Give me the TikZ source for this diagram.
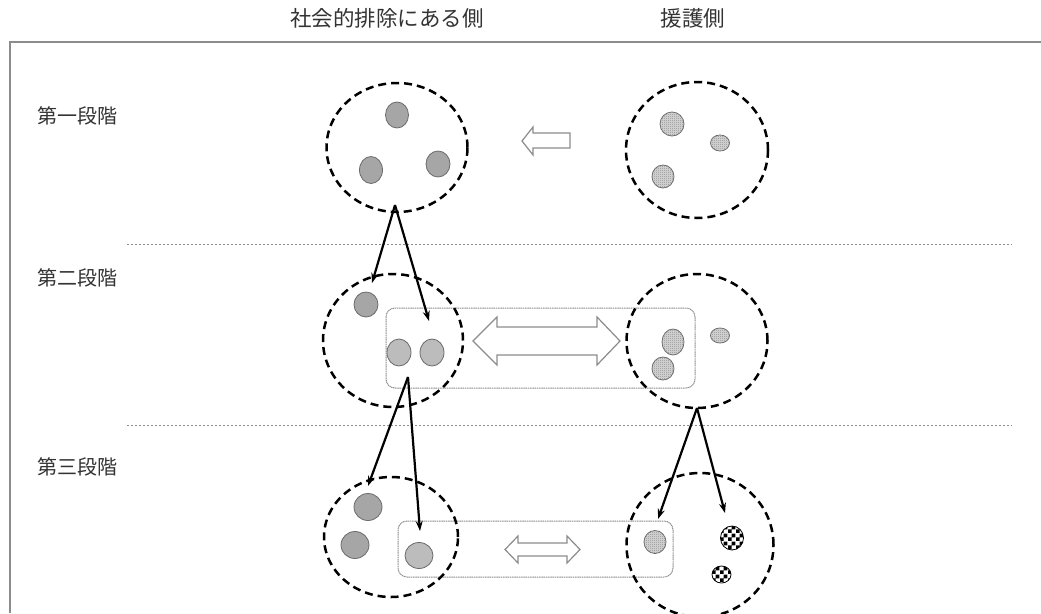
\documentclass[tikz,border=0pt]{standalone}
\usepackage{fontspec}
\newfontfamily\jp{Noto Sans CJK JP}
\usetikzlibrary{shapes.geometric,arrows.meta,patterns}
\pgfdeclarepatternformonly{bigcheck}{\pgfpointorigin}{\pgfqpoint{8pt}{8pt}}{\pgfqpoint{8pt}{8pt}}{%
  \pgfpathrectangle{\pgfpointorigin}{\pgfqpoint{4pt}{4pt}}%
  \pgfpathrectangle{\pgfqpoint{4pt}{4pt}}{\pgfqpoint{4pt}{4pt}}%
  \pgfusepath{fill}}
\pgfdeclarepatternformonly{finecheck}{\pgfpointorigin}{\pgfqpoint{2pt}{2pt}}{\pgfqpoint{2pt}{2pt}}{%
  \pgfpathrectangle{\pgfpointorigin}{\pgfqpoint{1pt}{1pt}}%
  \pgfpathrectangle{\pgfqpoint{1pt}{1pt}}{\pgfqpoint{1pt}{1pt}}%
  \pgfusepath{fill}}
\definecolor{txt}{HTML}{333333}
\definecolor{dotAf}{HTML}{A6A6A6}
\definecolor{dotBf}{HTML}{BCBCBC}
\definecolor{dotCf}{HTML}{D8D8D8}
\definecolor{edge}{HTML}{6A6A6A}
\definecolor{lgray}{HTML}{8C8C8C}
\tikzset{
  group/.style={ellipse, draw=black, line width=2.5pt, dash pattern=on 8pt off 5pt, inner sep=0pt},
  dotA/.style={ellipse, draw=edge, line width=0.8pt, fill=dotAf, inner sep=0pt},
  dotB/.style={ellipse, draw=edge, line width=0.8pt, fill=dotBf, inner sep=0pt},
  dotC/.style={ellipse, draw=edge, line width=0.8pt, fill=dotCf, inner sep=0pt,
     postaction={pattern=finecheck, pattern color=lgray}},
  dotD/.style={ellipse, draw=black, line width=0.8pt, fill=white, inner sep=0pt,
     postaction={pattern=bigcheck, pattern color=black}},
  box/.style={draw=lgray, line width=1pt, dash pattern=on 1.2pt off 0.6pt, rounded corners=9pt},
  sep/.style={draw=lgray, line width=1pt, dash pattern=on 2pt off 2pt},
  hollow/.style={draw=lgray, line width=1.2pt, fill=white, line join=miter},
  link/.style={draw=black, line width=2.2pt, -{Stealth[length=10pt,width=7pt]}},
  lbl/.style={font=\jp\fontsize{20}{22}\selectfont, text=txt, inner sep=0pt},
}
\begin{document}
\begin{tikzpicture}[x=1pt,y=-1pt]
\useasboundingbox (0,0) rectangle (1041,613);
% frame
\draw[draw=lgray, line width=1.5pt] (10,613) -- (10,42) -- (1041,42);
% headers
\node[lbl, font=\jp\fontsize{21.5}{24}\selectfont] (hL) at (387,18) {社会的排除にある側};
\node[lbl, font=\jp\fontsize{21.5}{24}\selectfont] (hR) at (693,18) {援護側};
\node[lbl, anchor=west] (s1) at (37,116) {第一段階};
\node[lbl, anchor=west] (s2) at (37,278) {第二段階};
\node[lbl, anchor=west] (s3) at (37,467) {第三段階};
% separators
\coordinate (sepA1) at (127,244); \coordinate (sepA2) at (1012,244);
\coordinate (sepB1) at (127,425); \coordinate (sepB2) at (1012,425);
\draw[sep] (sepA1) -- (sepA2);
\draw[sep] (sepB1) -- (sepB2);
% boxes
\draw[box] (386,308) rectangle (695,388);
\draw[box] (398,521) rectangle (673,577);
% hollow arrows
\draw[hollow] (522,141) -- (533,127) -- (533,133) -- (570,133) -- (570,148) -- (533,148) -- (533,155) -- cycle;
\draw[hollow] (473,341) -- (497,317) -- (497,327) -- (597,327) -- (597,317) -- (620,341)
   -- (597,365) -- (597,355) -- (497,355) -- (497,365) -- cycle;
\draw[hollow] (505,549.5) -- (518,536) -- (518,543) -- (567,543) -- (567,536) -- (580,549.5)
   -- (567,563) -- (567,556) -- (518,556) -- (518,563) -- cycle;
% stage 1
\node[group, minimum width=141, minimum height=129] (L1) at (397,147.5) {};
\node[dotA, minimum width=23, minimum height=26] (a1) at (397,115) {};
\node[dotA, minimum width=23, minimum height=27] (a2) at (371,170) {};
\node[dotA, minimum width=24, minimum height=26] (a3) at (438,164) {};
\node[group, minimum width=142, minimum height=136] (R1) at (697,150) {};
\node[dotC, minimum width=24, minimum height=24] (b1) at (672,124) {};
\node[dotC, minimum width=19, minimum height=16] (b2) at (720,143) {};
\node[dotC, minimum width=22, minimum height=23] (b3) at (663,176.5) {};
% stage 2
\node[group, minimum width=140, minimum height=133] (L2) at (393,340.5) {};
\node[dotA, minimum width=24, minimum height=25] (c1) at (366,304.5) {};
\node[dotB, minimum width=24, minimum height=27] (c2) at (399,352.5) {};
\node[dotB, minimum width=24, minimum height=27] (c3) at (432,352.5) {};
\node[group, minimum width=141, minimum height=134] (R2) at (697,341) {};
\node[dotC, minimum width=22, minimum height=26] (d1) at (673,342) {};
\node[dotC, minimum width=19, minimum height=15] (d2) at (720,335.5) {};
\node[dotC, minimum width=22, minimum height=23] (d3) at (663,368.5) {};
% stage 3
\node[group, minimum width=134, minimum height=120] (L3) at (391,537) {};
\node[dotA, minimum width=28, minimum height=27] (e1) at (368,507) {};
\node[dotA, minimum width=28, minimum height=27] (e2) at (355,545) {};
\node[dotB, minimum width=28, minimum height=26] (e3) at (419,555.5) {};
\node[group, minimum width=147, minimum height=144] (R3) at (700,545) {};
\node[dotC, minimum width=22, minimum height=23] (f1) at (655,542) {};
\node[dotD, minimum width=23, minimum height=24] (f2) at (732,538) {};
\node[dotD, minimum width=19, minimum height=17] (f3) at (721.5,574.5) {};
% links
\coordinate (o1) at (395,205);
\coordinate (o2) at (408,377);
\coordinate (o3) at (697,408);
\coordinate (t1a) at (372,283); \coordinate (t1b) at (429,321);
\coordinate (t2a) at (368,486); \coordinate (t2b) at (420,531);
\coordinate (t3a) at (658,519); \coordinate (t3b) at (725,513);
\draw[link] (o1) -- (t1a);
\draw[link] (o1) -- (t1b);
\draw[link] (o2) -- (t2a);
\draw[link] (o2) -- (t2b);
\draw[link] (o3) -- (t3a);
\draw[link] (o3) -- (t3b);
\end{tikzpicture}
\end{document}
